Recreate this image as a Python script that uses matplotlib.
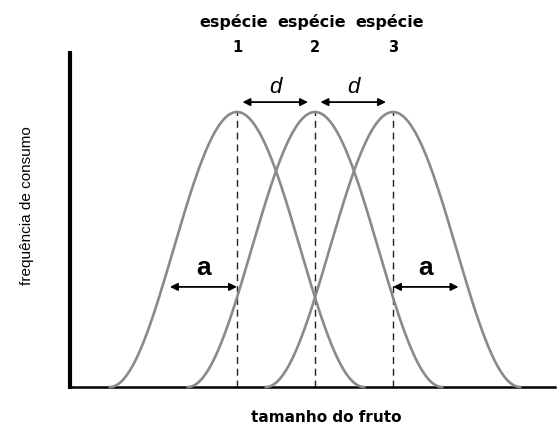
import numpy as np
import matplotlib.pyplot as plt

# Conceptual data
species_words = ["espécie", "espécie", "espécie"]
species_numbers = ["1", "2", "3"]
centers = [1.0, 2.0, 3.0]      # peak positions (fruit size), spacing d = 1
peak_height = 1.0
half_base = 1.63               # half of curve base width
a_level = 0.364                # height of the 'a' arrows
d_level = 1.036                # height of the 'd' arrows
xlabel = "tamanho do fruto"
ylabel = "frequência de consumo"

plt.rcParams['font.family'] = ['Liberation Sans', 'DejaVu Sans']

fig = plt.figure(figsize=(5.58, 4.26), dpi=100)
ax = fig.add_axes([70/558, 39/426, 485/558, 334/426])

curve_color = '#8a8a8a'
for c in centers:
    x = np.linspace(c - half_base, c + half_base, 300)
    y = peak_height * 0.5 * (1 + np.cos(np.pi * (x - c) / half_base))
    ax.plot(x, y, color=curve_color, lw=1.9, zorder=3, clip_on=False)
    ax.plot([c, c], [0, peak_height], color='#222222', lw=1.0,
            ls=(0, (5, 3.5)), zorder=2)

ax.set_xlim(-1.141, 5.077)
ax.set_ylim(0, 334/275)

for s in ['top', 'right']:
    ax.spines[s].set_visible(False)
ax.spines['left'].set_linewidth(3.0)
ax.spines['bottom'].set_linewidth(1.8)
ax.set_xticks([])
ax.set_yticks([])

arrow_kw = dict(arrowstyle='<|-|>', color='black', lw=1.3,
                mutation_scale=11, shrinkA=0, shrinkB=0)

# d arrows
for c0, c1 in zip(centers[:-1], centers[1:]):
    ax.annotate('', xy=(c0 + 0.07, d_level), xytext=(c1 - 0.09, d_level),
                arrowprops=arrow_kw)
    ax.text((c0 + c1) / 2 - 0.01, d_level + 0.015, 'd', ha='center', va='bottom',
            fontsize=16, style='italic')

# a arrows
ax.annotate('', xy=(centers[0] - 0.86, a_level), xytext=(centers[0], a_level),
            arrowprops=arrow_kw)
ax.text(centers[0] - 0.43, a_level + 0.025, 'a', ha='center', va='bottom',
        fontsize=19, fontweight='bold')
ax.annotate('', xy=(centers[2], a_level), xytext=(centers[2] + 0.84, a_level),
            arrowprops=arrow_kw)
ax.text(centers[2] + 0.42, a_level + 0.025, 'a', ha='center', va='bottom',
        fontsize=19, fontweight='bold')

# species labels above
word_y = 1 - 22/426
num_y = 1 - 47/426
for c, w, n in zip(centers, species_words, species_numbers):
    xf = ax.transData.transform((c, 0))[0]
    xfig = fig.transFigure.inverted().transform((xf, 0))[0]
    fig.text(xfig - 3/558, word_y, w, ha='center', va='center', fontsize=11.5,
             fontweight='bold', family='DejaVu Sans')
    fig.text(xfig, num_y, n, ha='center', va='center', fontsize=10.5,
             fontweight='bold', family='DejaVu Sans')

fig.text(326/558, 1 - 418/426, xlabel, ha='center', va='center',
         fontsize=11, fontweight='bold', family='DejaVu Sans')
fig.text(27/558, 1 - 206/426, ylabel, ha='center', va='center',
         fontsize=11, rotation=90)

fig.savefig('out.png', dpi=100)
